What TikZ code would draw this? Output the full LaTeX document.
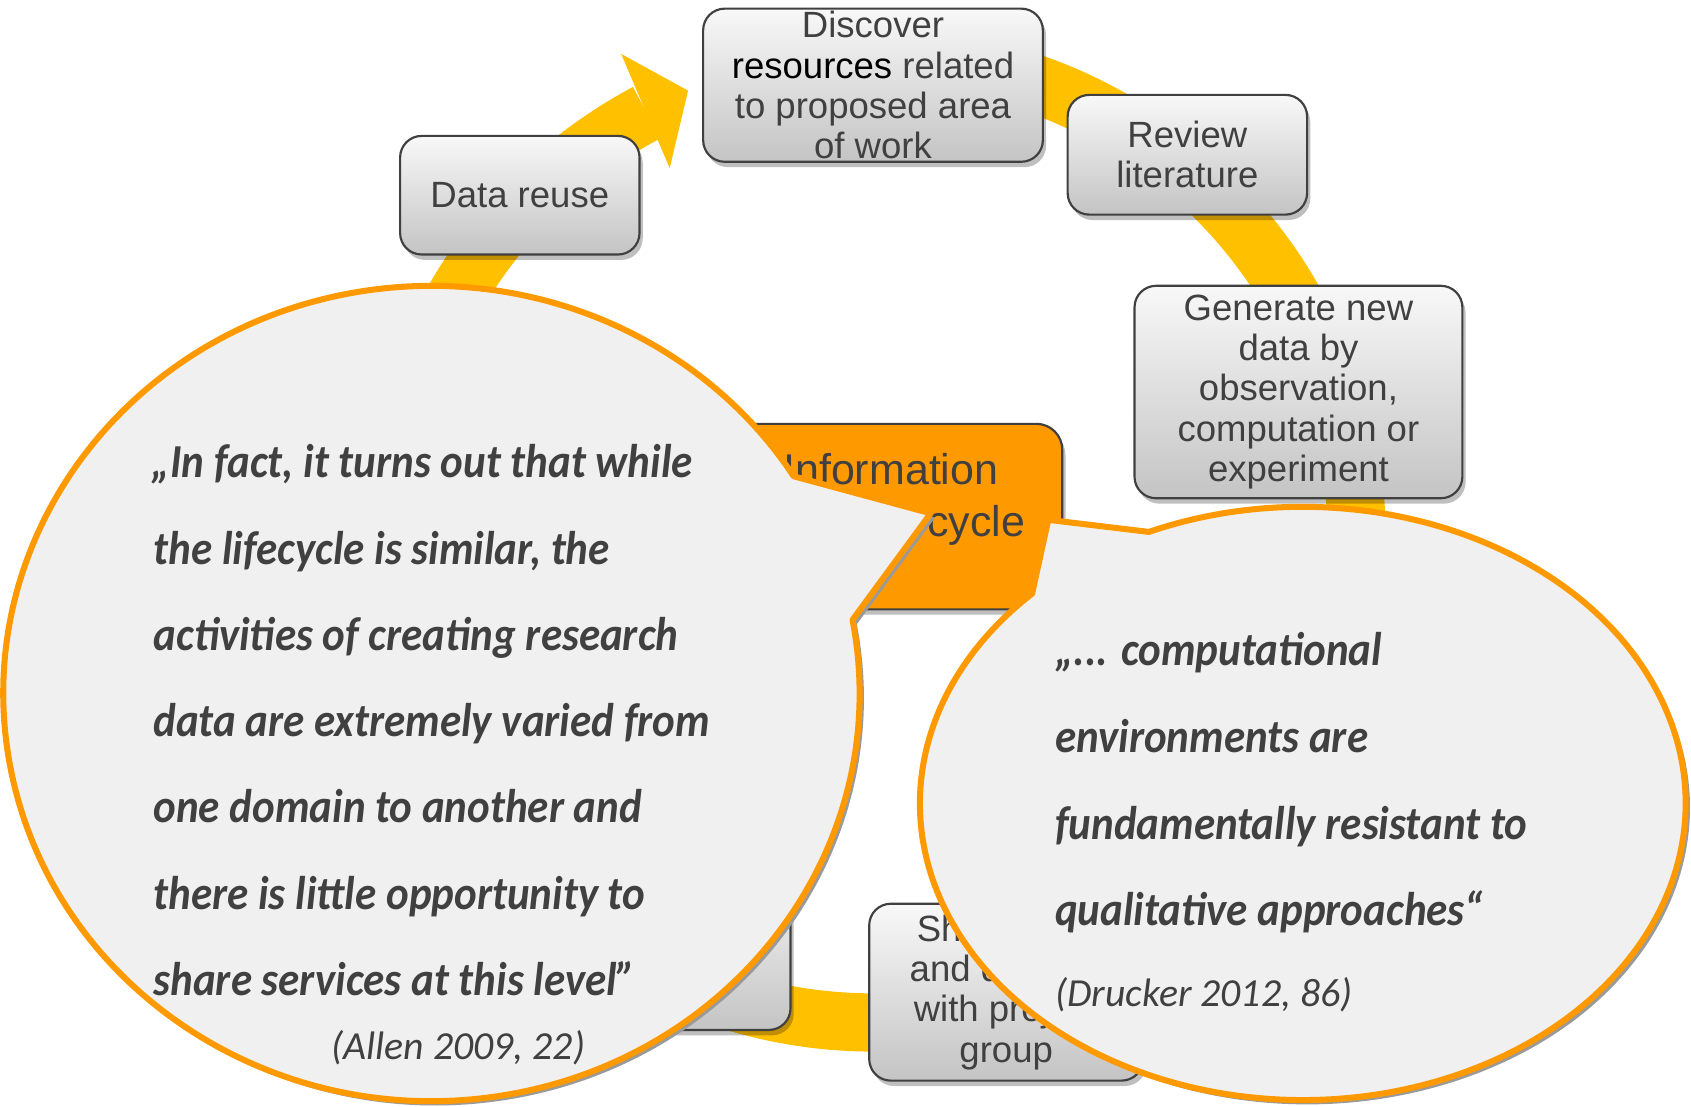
\documentclass[tikz,border=0pt]{standalone}
\usepackage{fontspec}
\setmainfont{Liberation Sans}
\newfontfamily\qfont[FakeStretch=0.91]{Carlito}
\newfontfamily\cfont{Carlito}
\usetikzlibrary{shadows}
\definecolor{ringc}{HTML}{FFC000}
\definecolor{orng}{HTML}{FF9900}
\definecolor{bub}{HTML}{F0F0F0}
\definecolor{txt}{HTML}{404040}
\definecolor{shd}{HTML}{9A9A9A}
\definecolor{btop}{HTML}{F8F8F8}
\definecolor{bbot}{HTML}{C4C4C4}
\begin{document}
\begin{tikzpicture}[x=0.5bp,y=-0.5bp,
  stepbox/.style={draw=txt, line width=1bp, rounded corners=10bp, top color=btop, bottom color=bbot,
    drop shadow={shadow xshift=1.5bp, shadow yshift=-2.5bp, opacity=0.25, fill=black}, inner sep=0},
  boxtext/.style={text=txt, align=center, font=\fontsize{17}{18.75}\selectfont, inner sep=0},
  qline/.style={anchor=base west, text=txt, inner sep=0, font=\qfont\bfseries\itshape\fontsize{22}{22}\selectfont},
  citeline/.style={anchor=base west, text=txt, inner sep=0, font=\cfont\itshape\fontsize{18.5}{18.5}\selectfont},
  bubble/.style={fill=bub, draw=orng, line width=2.8bp, line join=round},
  bshadow/.style={fill=shd, shift={(4,4)}},
  ringline/.style={draw=ringc, line width=27bp},
]
\useasboundingbox (0,0) rectangle (1568,1026);
\clip (0,0) rectangle (1568,1026);

% cycle ring with arrow head
\coordinate (C) at (810,500);
\coordinate (ringstart) at (732.2,58.8);
\draw[ringline] (ringstart) arc[start angle=-100, end angle=242, radius=448];
\coordinate (headA) at (576,50);
\coordinate (headT) at (638,84);
\coordinate (headB) at (621,156);
\fill[ringc] (headA) -- (headT) -- (headB) -- cycle;

% step boxes
\node[stepbox, minimum width=125bp, minimum height=77.5bp] (publish) at (608,877.5) {};
\node[stepbox, minimum width=127bp, minimum height=82bp] (share) at (933,920) {};
\node[boxtext] (sharet) at (share.center) {Share data\\and discuss\\with project\\group};
\node[stepbox, minimum width=111bp, minimum height=55bp] (reuse) at (482,181) {};
\node[boxtext] (reuset) at (reuse.center) {Data reuse};
\node[stepbox, minimum width=157.5bp, minimum height=71bp] (discover) at (809.5,79) {};
\node[boxtext] (discovert) at (discover.center) {Discover\\{\color{black}resources} related\\to proposed area\\of work};
\node[stepbox, minimum width=111bp, minimum height=55.5bp] (review) at (1101,143.5) {};
\node[boxtext] (reviewt) at (review.center) {Review\\literature};
\node[stepbox, minimum width=152bp, minimum height=98.5bp] (generate) at (1204,363.5) {};
\node[boxtext] (generatet) at (generate.center) {Generate new\\data by\\observation,\\computation or\\experiment};

% centre box
\node[draw=txt, line width=1bp, fill=orng, rounded corners=12bp, minimum width=161bp, minimum height=86bp, inner sep=0,
  drop shadow={shadow xshift=1.5bp, shadow yshift=-2.5bp, opacity=0.25, fill=black}] (centre) at (824,479) {};
\node[text=txt, align=center, inner sep=0, font=\fontsize{20}{24}\selectfont] (centret) at (826,463) {Information\\\hspace*{47bp}Lifecycle};

% left callout
\fill[bshadow] (735.9,441.6) -- (863,476) -- (790.5,574.8)
  arc[start angle=-10.4, end angle=327.8, x radius=397, y radius=378] -- cycle;
\path[bubble] (735.9,441.6) -- (863,476) -- (790.5,574.8)
  arc[start angle=-10.4, end angle=327.8, x radius=397, y radius=378] -- cycle;
\node[qline] (l1) at (140,443) {„In fact, it turns out that while};
\node[qline] (l2) at (142,523) {the lifecycle is similar,  the};
\node[qline] (l3) at (142,603) {activities of creating research};
\node[qline] (l4) at (142,683) {data are extremely varied from};
\node[qline] (l5) at (142,763) {one domain to another and};
\node[qline] (l6) at (142,843) {there is little opportunity to};
\node[qline] (l7) at (142,923) {share services at this level”};
\node[citeline] (l8) at (307,982) {(Allen 2009, 22)};

% right callout
\fill[bshadow] (957,550.5) -- (972,482) -- (1065.3,493.2)
  arc[start angle=-113.7, end angle=225, x radius=355, y radius=275] -- cycle;
\path[bubble] (957,550.5) -- (972,482) -- (1065.3,493.2)
  arc[start angle=-113.7, end angle=225, x radius=355, y radius=275] -- cycle;
\node[qline] (r1) at (978,617) {„... computational};
\node[qline] (r2) at (978,698) {environments are};
\node[qline] (r3) at (978,778) {fundamentally resistant to};
\node[qline] (r4) at (978,858) {qualitative approaches“};
\node[citeline] (r5) at (978,933) {(Drucker 2012, 86)};
\end{tikzpicture}
\end{document}
